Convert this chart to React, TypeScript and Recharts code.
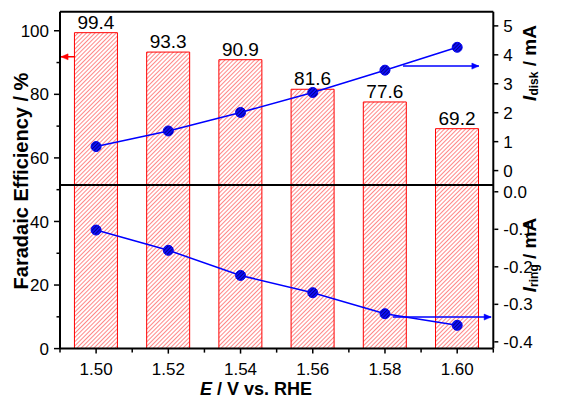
import React from "react";
import {
  ComposedChart,
  Bar,
  Line,
  XAxis,
  YAxis,
  ReferenceLine,
  LabelList,
  Label,
} from "recharts";

// Potentials (V vs. RHE)
const potentials = ["1.50", "1.52", "1.54", "1.56", "1.58", "1.60"];
// Faradaic efficiency (%)
const faradaicEfficiency = [99.4, 93.3, 90.9, 81.6, 77.6, 69.2];
// Disk current (mA)
const diskCurrent = [0.83, 1.37, 2.01, 2.7, 3.47, 4.26];
// Ring current (mA)
const ringCurrent = [-0.102, -0.156, -0.223, -0.269, -0.325, -0.356];

// Axis ticks
const feTicks = [0, 10, 20, 30, 40, 50, 60, 70, 80, 90, 100];
const diskTicks = [0, 1, 2, 3, 4, 5];
const ringTicks = [0, -0.1, -0.2, -0.3, -0.4];

// Arrows pointing each series to its axis (tail first, tip second)
const feArrow = [
  { x: 1.4942, y: 91.8 },
  { x: 1.4903, y: 91.8 },
];
const diskArrow = [
  { x: 1.585, y: 3.61 },
  { x: 1.606, y: 3.61 },
];
const ringArrow = [
  { x: 1.5822, y: -0.334 },
  { x: 1.6094, y: -0.334 },
];

const data = potentials.map((p, i) => ({
  potential: p,
  fe: faradaicEfficiency[i],
  disk: diskCurrent[i],
  ring: ringCurrent[i],
}));

const FONT = "'Liberation Sans', Arial, Helvetica, sans-serif";
const TICK_FONT = 17;

const LEFT_TICK_SIZE = 6;
const LEFT_TICK_MARGIN = 5;

function FeTick(props: any) {
  const { x, y, payload } = props;
  const axisX = x + LEFT_TICK_SIZE + LEFT_TICK_MARGIN;
  const major = payload.value % 20 === 0;
  return (
    <g>
      <line
        x1={axisX - (major ? 6 : 3.5)}
        x2={axisX}
        y1={y}
        y2={y}
        stroke="#000"
        strokeWidth={1.5}
      />
      {major && (
        <text
          x={x}
          y={y}
          dy="0.355em"
          textAnchor="end"
          fontFamily={FONT}
          fontSize={TICK_FONT}
          fill="#000"
        >
          {payload.value}
        </text>
      )}
    </g>
  );
}

const X_TICK_SIZE = 5;
const X_TICK_MARGIN = 9;

function PotentialTick(props: any) {
  const { x, y, payload, index, visibleTicksCount } = props;
  const axisY = y - X_TICK_SIZE - X_TICK_MARGIN;
  const half = payload.offset ?? 36;
  const last = index === visibleTicksCount - 1;
  return (
    <g>
      <line x1={x} x2={x} y1={axisY} y2={axisY + 5} stroke="#000" strokeWidth={1.5} />
      <line
        x1={x - half}
        x2={x - half}
        y1={axisY}
        y2={axisY + 4}
        stroke="#000"
        strokeWidth={1.5}
      />
      {last && (
        <line
          x1={x + half}
          x2={x + half}
          y1={axisY}
          y2={axisY + 4}
          stroke="#000"
          strokeWidth={1.5}
        />
      )}
      <text
        x={x}
        y={y}
        dy="0.71em"
        textAnchor="middle"
        fontFamily={FONT}
        fontSize={TICK_FONT}
        fill="#000"
      >
        {payload.value}
      </text>
    </g>
  );
}

function arrowHead(color: string, dir: "left" | "right") {
  return (props: any) => {
    const { cx, cy, index } = props;
    if (index !== 1 || cx == null || cy == null) {
      return <g key={`n-${index}`} />;
    }
    const s = dir === "right" ? -1 : 1;
    const pts = `${cx},${cy} ${cx + s * 7},${cy - 3} ${cx + s * 7},${cy + 3}`;
    return <polygon key={`h-${index}`} points={pts} fill={color} stroke={color} strokeWidth={0.5} />;
  };
}

const markerDot = { r: 5, fill: "url(#dotHatch)", stroke: "#0000ee", strokeWidth: 1 };

export default function App() {
  return (
    <div style={{ position: "absolute", left: 0, top: 0, background: "#fff" }}>
      <ComposedChart
        width={564}
        height={398}
        data={data}
        margin={{ top: 11.7, right: 68.7, bottom: 19.4, left: 10 }}
        barCategoryGap="20%"
      >
        <defs>
          <pattern
            id="barHatch"
            width="3"
            height="3"
            patternUnits="userSpaceOnUse"
            patternTransform="rotate(45)"
          >
            <rect width="3" height="3" fill="#ffffff" />
            <line x1="0.5" y1="0" x2="0.5" y2="3" stroke="#ff7a7a" strokeWidth="0.9" />
          </pattern>
          <pattern
            id="dotHatch"
            width="2.5"
            height="2.5"
            patternUnits="userSpaceOnUse"
            patternTransform="rotate(45)"
          >
            <rect width="2.5" height="2.5" fill="#1010ff" />
            <line x1="0.5" y1="0" x2="0.5" y2="2.5" stroke="#000080" strokeWidth="0.9" />
          </pattern>
        </defs>

        <XAxis
          dataKey="potential"
          xAxisId="cat"
          height={30}
          interval={0}
          axisLine={{ stroke: "#000", strokeWidth: 2 }}
          tickLine={false}
          tickSize={X_TICK_SIZE}
          tickMargin={X_TICK_MARGIN}
          tick={<PotentialTick />}
        >
          <Label
            content={() => (
              <text
                x={256}
                y={389}
                textAnchor="middle"
                dominantBaseline="central"
                fontFamily={FONT}
                fontSize={18}
                fontWeight="bold"
                fill="#000"
              >
                <tspan fontStyle="italic">E</tspan>
                <tspan> / V vs. RHE</tspan>
              </text>
            )}
          />
        </XAxis>
        <XAxis
          xAxisId="num"
          dataKey="x"
          type="number"
          domain={[1.49, 1.61]}
          allowDataOverflow
          hide
        />

        <YAxis
          yAxisId="fe"
          orientation="left"
          width={50}
          domain={[0, 106]}
          allowDataOverflow
          ticks={feTicks}
          interval={0}
          axisLine={{ stroke: "#000", strokeWidth: 2 }}
          tickLine={false}
          tickSize={LEFT_TICK_SIZE}
          tickMargin={LEFT_TICK_MARGIN}
          tick={<FeTick />}
        >
          <Label
            content={() => (
              <text
                x={21}
                y={181}
                transform="rotate(-90 21 181)"
                textAnchor="middle"
                dominantBaseline="central"
                fontFamily={FONT}
                fontSize={20}
                fontWeight="bold"
                fill="#000"
              >
                Faradaic Efficiency / %
              </text>
            )}
          />
        </YAxis>
        <YAxis
          yAxisId="disk"
          orientation="right"
          width={1}
          domain={[-6.15, 5.49]}
          allowDataOverflow
          ticks={diskTicks}
          interval={0}
          axisLine={{ stroke: "#000", strokeWidth: 2 }}
          tickLine={{ stroke: "#000", strokeWidth: 1.5 }}
          tickSize={5}
          tickMargin={5}
          tick={{ fill: "#000", fontSize: TICK_FONT, fontFamily: FONT }}
        >
          <Label
            content={() => (
              <text
                x={529}
                y={63}
                transform="rotate(-90 529 63)"
                textAnchor="middle"
                dominantBaseline="central"
                fontFamily={FONT}
                fontSize={19}
                fontWeight="bold"
                fill="#000"
              >
                <tspan fontStyle="italic">I</tspan>
                <tspan fontSize={12} dy="0.45em">disk</tspan>
                <tspan dy="-0.3em"> / mA</tspan>
              </text>
            )}
          />
        </YAxis>
        <YAxis
          yAxisId="ring"
          orientation="right"
          width={1}
          domain={[-0.418, 0.48]}
          allowDataOverflow
          ticks={ringTicks}
          interval={0}
          axisLine={false}
          tickLine={{ stroke: "#000", strokeWidth: 1.5 }}
          tickSize={4}
          tickMargin={5}
          tickFormatter={(v: number) => (v === 0 ? "0.0" : v.toFixed(1))}
          tick={{ fill: "#000", fontSize: TICK_FONT, fontFamily: FONT }}
        >
          <Label
            content={() => (
              <text
                x={529}
                y={255}
                transform="rotate(-90 529 255)"
                textAnchor="middle"
                dominantBaseline="central"
                fontFamily={FONT}
                fontSize={19}
                fontWeight="bold"
                fill="#000"
              >
                <tspan fontStyle="italic">I</tspan>
                <tspan fontSize={12} dy="0.45em">ring</tspan>
                <tspan dy="-0.3em"> / mA</tspan>
              </text>
            )}
          />
        </YAxis>

        <Bar
          dataKey="fe"
          xAxisId="cat"
          yAxisId="fe"
          fill="url(#barHatch)"
          stroke="#ff0000"
          strokeWidth={1}
          isAnimationActive={false}
        >
          <LabelList
            dataKey="fe"
            position="top"
            offset={4}
            fill="#000"
            fontSize={19}
            fontFamily={FONT}
          />
        </Bar>

        <ReferenceLine yAxisId="fe" xAxisId="cat" y={106} stroke="#000" strokeWidth={2} />
        <ReferenceLine yAxisId="disk" xAxisId="cat" y={-0.5} stroke="#000" strokeWidth={2} />

        <Line
          dataKey="disk"
          xAxisId="cat"
          yAxisId="disk"
          stroke="#0000ff"
          strokeWidth={1.5}
          dot={markerDot}
          activeDot={false}
          isAnimationActive={false}
        />
        <Line
          dataKey="ring"
          xAxisId="cat"
          yAxisId="ring"
          stroke="#0000ff"
          strokeWidth={1.5}
          dot={markerDot}
          activeDot={false}
          isAnimationActive={false}
        />

        <Line
          data={feArrow}
          dataKey="y"
          xAxisId="num"
          yAxisId="fe"
          stroke="#ff0000"
          strokeWidth={1.5}
          dot={arrowHead("#ff0000", "left")}
          activeDot={false}
          isAnimationActive={false}
        />
        <Line
          data={diskArrow}
          dataKey="y"
          xAxisId="num"
          yAxisId="disk"
          stroke="#0000ff"
          strokeWidth={1.5}
          dot={arrowHead("#0000ff", "right")}
          activeDot={false}
          isAnimationActive={false}
        />
        <Line
          data={ringArrow}
          dataKey="y"
          xAxisId="num"
          yAxisId="ring"
          stroke="#0000ff"
          strokeWidth={1.5}
          dot={arrowHead("#0000ff", "right")}
          activeDot={false}
          isAnimationActive={false}
        />
      </ComposedChart>
    </div>
  );
}
